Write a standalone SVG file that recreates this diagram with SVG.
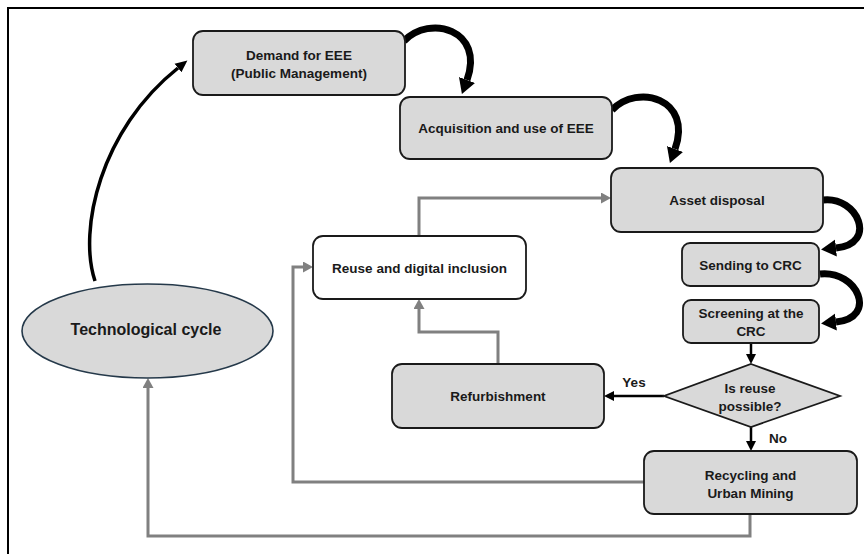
<svg xmlns="http://www.w3.org/2000/svg" width="864" height="554" viewBox="0 0 864 554">
  <defs>
    <style>
      .box { fill: #d9d9d9; stroke: #1a1a1a; stroke-width: 1.8; }
      .wbox { fill: #ffffff; stroke: #1a1a1a; stroke-width: 1.8; }
      .lbl { font-family: "Liberation Sans", Arial, sans-serif; font-weight: bold; font-size: 13.5px; fill: #1a1a1a; text-anchor: middle; dominant-baseline: central; }
      .big { font-size: 16px; }
      .curve { fill: none; stroke: #000; stroke-width: 7; }
      .thin { fill: none; stroke: #000; stroke-width: 3.5; }
      .blk { fill: none; stroke: #000; stroke-width: 2.5; }
      .gray { fill: none; stroke: #808080; stroke-width: 3; }
    </style>
    <marker id="bigHead" markerUnits="userSpaceOnUse" markerWidth="20" markerHeight="20" refX="0" refY="9" orient="auto">
      <path d="M0,0.5 L15,9 L0,17.5 Z" fill="#000"/>
    </marker>
    <marker id="smallHead" markerUnits="userSpaceOnUse" markerWidth="14" markerHeight="14" refX="0" refY="6" orient="auto">
      <path d="M0,0.5 L12,6 L0,11.5 Z" fill="#000"/>
    </marker>
    <marker id="blkHead" markerUnits="userSpaceOnUse" markerWidth="12" markerHeight="12" refX="0" refY="5.5" orient="auto">
      <path d="M0,0.5 L10,5.5 L0,10.5 Z" fill="#000"/>
    </marker>
    <marker id="grayHead" markerUnits="userSpaceOnUse" markerWidth="12" markerHeight="12" refX="0" refY="5.5" orient="auto">
      <path d="M0,0 L10,5.5 L0,11 Z" fill="#808080"/>
    </marker>
  </defs>

  <rect width="864" height="554" fill="#ffffff"/>
  <path d="M8 554 V8 H864" fill="none" stroke="#000" stroke-width="2"/>

  <g id="connectors">
    <!-- black curved arrows -->
    <path class="curve" d="M404 41 C430 14, 485 30, 467 80" marker-end="url(#bigHead)"/>
    <path class="curve" d="M612 110 C638 83, 693 99, 675 149" marker-end="url(#bigHead)"/>
    <path class="curve" d="M823 200 C858 196, 878 244, 836 248" marker-end="url(#bigHead)"/>
    <path class="curve" d="M820 274 C858 270, 878 318, 836 322" marker-end="url(#bigHead)"/>
    <path class="thin" d="M95 281 C78 230, 100 130, 178 68" marker-end="url(#smallHead)"/>
    <!-- black straight arrows -->
    <path class="blk" d="M751 343 V354" marker-end="url(#blkHead)"/>
    <path class="blk" d="M664 396 H614" marker-end="url(#blkHead)"/>
    <path class="blk" d="M751 427 V441" marker-end="url(#blkHead)"/>
    <!-- gray arrows -->
    <path class="gray" d="M498 364 V332 H419 V309" marker-end="url(#grayHead)"/>
    <path class="gray" d="M419 236 V198 H601" marker-end="url(#grayHead)"/>
    <path class="gray" d="M644 482 H293 V267 H303" marker-end="url(#grayHead)"/>
    <path class="gray" d="M750 514 V536 H148 V388" marker-end="url(#grayHead)"/>
    <text class="lbl" x="634" y="382">Yes</text>
    <text class="lbl" x="778" y="438">No</text>
  </g>

  <g id="demand">
    <rect class="box" x="193" y="31" width="212" height="64" rx="10"/>
    <text class="lbl" x="299" y="55">Demand for EEE</text>
    <text class="lbl" x="299" y="73">(Public Management)</text>
  </g>

  <g id="acquisition">
    <rect class="box" x="400" y="97" width="212" height="62" rx="10"/>
    <text class="lbl" x="506" y="128">Acquisition and use of EEE</text>
  </g>

  <g id="asset-disposal">
    <rect class="box" x="611" y="168" width="212" height="64" rx="10"/>
    <text class="lbl" x="717" y="200">Asset disposal</text>
  </g>

  <g id="sending-crc">
    <rect class="box" x="682" y="243" width="137" height="43" rx="8"/>
    <text class="lbl" x="750.5" y="265">Sending to CRC</text>
  </g>

  <g id="screening-crc">
    <rect class="box" x="683" y="300" width="136" height="43" rx="8"/>
    <text class="lbl" x="751" y="313">Screening at the</text>
    <text class="lbl" x="751" y="331">CRC</text>
  </g>

  <g id="reuse-decision">
    <polygon class="box" points="751,364 840,396 751,427 664,396"/>
    <text class="lbl" x="750" y="388">Is reuse</text>
    <text class="lbl" x="750" y="406">possible?</text>
  </g>

  <g id="refurbishment">
    <rect class="box" x="392" y="364" width="212" height="64" rx="10"/>
    <text class="lbl" x="498" y="396">Refurbishment</text>
  </g>

  <g id="recycling">
    <rect class="box" x="644" y="451" width="213" height="63" rx="10"/>
    <text class="lbl" x="750.5" y="475">Recycling and</text>
    <text class="lbl" x="750.5" y="493">Urban Mining</text>
  </g>

  <g id="reuse-inclusion">
    <rect class="wbox" x="313" y="236" width="213" height="63" rx="10"/>
    <text class="lbl" x="419.5" y="268">Reuse and digital inclusion</text>
  </g>

  <g id="technological-cycle">
    <ellipse cx="147.5" cy="331" rx="125.5" ry="47" fill="#d9d9d9" stroke="#25394a" stroke-width="1.6"/>
    <text class="lbl big" x="146" y="329">Technological cycle</text>
  </g>
</svg>
